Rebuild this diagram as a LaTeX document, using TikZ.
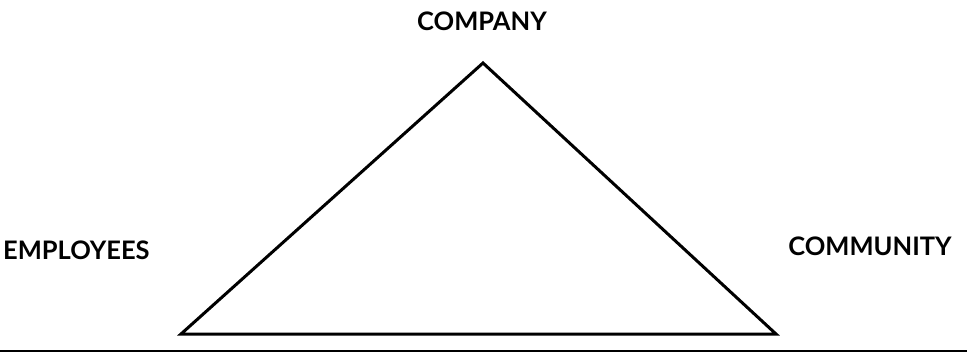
\documentclass[tikz,border=0pt]{standalone}
\usepackage{fontspec}
\setmainfont{Lato}
\usetikzlibrary{positioning}

\begin{document}
\begin{tikzpicture}[
    x=1pt, y=-1pt,
    label/.style={font=\bfseries\fontsize{25.5}{30}\selectfont, inner sep=0pt},
    edge/.style={draw, line width=3pt, line join=miter},
    rule/.style={draw, line width=1.8pt}
]
    \useasboundingbox (0,0) rectangle (967,353);

    % Triangle corners
    \coordinate (top) at (483,63);
    \coordinate (left) at (181,334);
    \coordinate (right) at (776,334);

    % Labels
    \node[label] (company) at (482,21) {COMPANY};
    \node[label, anchor=west] (employees) at (3,250) {EMPLOYEES};
    \node[label] (community) at (870,246) {COMMUNITY};

    % Triangle
    \draw[edge] (left) -- (top) -- (right) -- cycle;

    % Bottom rule
    \coordinate (ruleL) at (0,351);
    \coordinate (ruleR) at (967,351);
    \draw[rule] (ruleL) -- (ruleR);
\end{tikzpicture}
\end{document}
